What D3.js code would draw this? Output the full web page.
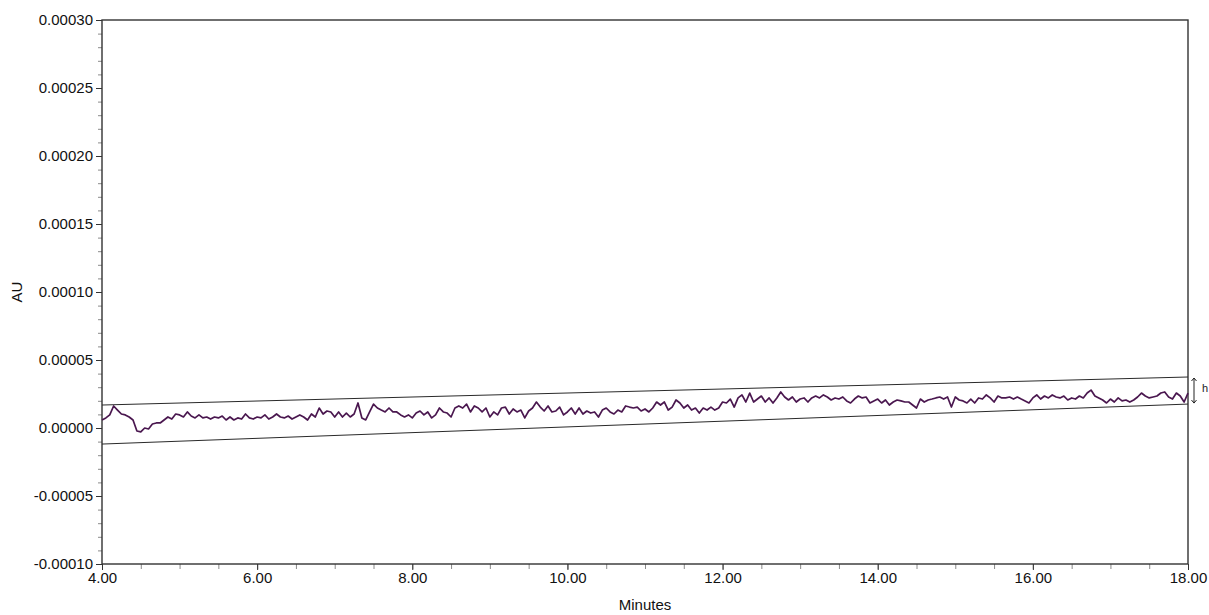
<!DOCTYPE html>
<html>
<head>
<meta charset="utf-8">
<script src="https://cdn.jsdelivr.net/npm/d3@7"></script>
<style>
  body { margin: 0; background: #fff; }
  svg { display: block; font-family: "Liberation Sans", Arial, sans-serif; }
</style>
</head>
<body>
<svg width="1209" height="615"></svg>
<script>
// detector trace, one reading every 0.05 min from 4.00 min, in micro-AU
let sampleStart = 4.0
let sampleStep = 0.05
let signalMicroAU = [
  5.9, 7.4, 9.6, 16.2, 13.2, 10.3, 9.6, 8.1, 5.9, -2.2, -2.9, 0.0, -0.7, 2.9, 3.7, 3.7, 5.9, 8.1, 6.6, 10.3, 9.6, 8.1, 11.8, 8.8, 7.4, 9.6,
  7.4, 8.1, 6.6, 8.1, 7.4, 8.8, 5.9, 8.1, 5.9, 7.4, 6.6, 10.3, 7.4, 6.6, 8.1, 7.4, 9.6, 6.6, 8.1, 10.3, 8.1, 7.4, 8.8, 6.6, 8.1,
  9.6, 8.1, 5.9, 10.3, 8.1, 14.7, 10.3, 12.5, 11.8, 8.1, 11.8, 8.1, 11.0, 8.1, 10.3, 18.4, 7.4, 5.9, 11.8, 17.6, 14.7, 13.2, 11.8, 14.7, 11.8, 11.8,
  9.6, 8.1, 9.6, 7.4, 11.0, 12.5, 9.6, 11.8, 7.4, 9.6, 14.7, 11.8, 11.0, 8.1, 14.7, 16.2, 14.7, 17.6, 11.8, 16.2, 14.7, 11.8, 14.7, 8.1, 11.8, 9.6,
  14.7, 15.4, 10.3, 14.0, 11.8, 13.2, 7.4, 12.5, 14.7, 19.1, 15.4, 12.5, 16.2, 11.8, 12.5, 15.4, 9.6, 11.8, 14.7, 10.3, 14.7, 10.3, 12.5, 11.0, 11.8, 8.1,
  13.2, 14.7, 11.8, 10.3, 13.2, 11.8, 16.2, 15.4, 14.7, 15.4, 12.5, 14.0, 11.8, 14.7, 19.1, 16.9, 19.1, 13.2, 15.4, 20.6, 18.4, 14.7, 16.9, 13.2, 14.7, 11.0,
  14.7, 13.2, 15.4, 13.2, 14.7, 19.1, 18.4, 21.3, 15.4, 22.1, 24.3, 19.1, 25.7, 19.1, 21.3, 23.5, 19.1, 22.1, 18.4, 22.1, 26.5, 22.8, 20.6, 22.8, 19.1,
  21.3, 22.1, 19.1, 22.1, 23.5, 22.1, 24.3, 22.8, 20.6, 22.1, 21.3, 22.8, 19.9, 18.4, 21.3, 23.5, 22.1, 22.8, 18.4, 19.9, 21.3, 18.4, 20.6, 16.9, 19.1, 20.6,
  19.9, 19.1, 19.1, 16.9, 14.7, 21.3, 19.1, 20.6, 21.3, 22.1, 22.8, 21.3, 22.8, 15.4, 22.8, 20.6, 19.9, 18.4, 21.3, 18.4, 22.1, 21.3, 24.3, 22.1, 19.1, 23.5,
  22.1, 22.1, 22.8, 21.3, 22.8, 21.3, 19.9, 18.4, 22.1, 24.3, 21.3, 23.5, 22.1, 24.3, 22.8, 22.1, 23.5, 20.6, 22.1, 21.3, 23.5, 22.1, 25.7, 27.9, 23.5, 22.1,
  20.6, 18.4, 21.3, 19.1, 22.1, 19.9, 20.6, 19.1, 20.6, 22.8, 25.7, 23.5, 22.1, 22.8, 23.5, 25.7, 26.5, 22.8, 21.3, 25.7, 23.5, 19.1, 25.7
]

// noise envelope lines (start / end), micro-AU
let envelopeTimes = [4.0, 18.0]
let envelopeUpper = [16.9, 37.5]
let envelopeLower = [-11.8, 17.6]

let xTicks = [4, 6, 8, 10, 12, 14, 16, 18]
let yTicks = [-0.0001, -0.00005, 0, 0.00005, 0.0001, 0.00015, 0.0002, 0.00025, 0.0003]

let width = 1209;
let height = 615;
let margin = { top: 20, right: 21, bottom: 51, left: 102 };

let svg = d3.select("svg")

let x = d3.scaleLinear()
    .domain([4, 18])
    .range([margin.left, width - margin.right])

let y = d3.scaleLinear()
    .domain([-0.0001, 0.0003])
    .range([height - margin.bottom, margin.top])

let axisColor = "#333333"

// minor ticks first so the major ones sit over them
let xMinorAxis = d3.axisBottom(x)
    .tickValues(d3.range(4, 18.01, 0.5))
    .tickSize(5)
    .tickSizeOuter(0)
    .tickFormat("")

let yMinorAxis = d3.axisLeft(y)
    .tickValues(d3.range(-0.0001, 0.000301, 0.00001))
    .tickSize(4)
    .tickSizeOuter(0)
    .tickFormat("")

svg.append("g")
    .attr("class", "x minor")
    .attr("transform", `translate(0,${height - margin.bottom})`)
    .call(xMinorAxis)

svg.append("g")
    .attr("class", "y minor")
    .attr("transform", `translate(${margin.left},0)`)
    .call(yMinorAxis)

svg.selectAll(".minor .tick line").style("stroke", "#8a8a8a")

let xAxisSettings = d3.axisBottom(x)
    .tickValues(xTicks)
    .tickFormat(d3.format(".2f"))
    .tickSize(6)
    .tickSizeOuter(0)
    .tickPadding(2)

let yAxisSettings = d3.axisLeft(y)
    .tickValues(yTicks)
    .tickFormat(d => d3.format(".5f")(d).replace("−", "-"))
    .tickSize(6)
    .tickSizeOuter(0)
    .tickPadding(3)

svg.append("g")
    .attr("class", "x axis")
    .attr("transform", `translate(0,${height - margin.bottom})`)
    .call(xAxisSettings)

svg.append("g")
    .attr("class", "y axis")
    .attr("transform", `translate(${margin.left},0)`)
    .call(yAxisSettings)

svg.selectAll(".axis .tick line").style("stroke", axisColor)
svg.selectAll(".domain").style("display", "none")
svg.selectAll(".axis .tick text")
    .style("font-size", "15px")
    .style("font-family", "'Liberation Sans', Arial, sans-serif")
    .style("fill", "#111")

// plot frame
svg.append("rect")
    .attr("x", x(4))
    .attr("y", y(0.0003))
    .attr("width", x(18) - x(4))
    .attr("height", y(-0.0001) - y(0.0003))
    .style("fill", "none")
    .style("stroke", axisColor)
    .style("stroke-width", 1.4)

// envelope lines
let envLine = d3.line()
    .x(d => x(d.t))
    .y(d => y(d.v * 1e-6))

let upper = envelopeTimes.map((t, i) => ({ t: t, v: envelopeUpper[i] }))
let lower = envelopeTimes.map((t, i) => ({ t: t, v: envelopeLower[i] }))

svg.selectAll(".envelope")
    .data([upper, lower])
    .enter().append("path")
    .attr("class", "envelope")
    .attr("d", envLine)
    .style("fill", "none")
    .style("stroke", "#2a2a2a")
    .style("stroke-width", 1)

// signal trace
let trace = signalMicroAU.map((v, i) => ({ t: sampleStart + i * sampleStep, v: v }))

let line = d3.line()
    .x(d => x(d.t))
    .y(d => y(d.v * 1e-6))

svg.append("path")
    .datum(trace)
    .attr("d", line)
    .style("fill", "none")
    .style("stroke", "#4a174f")
    .style("stroke-width", 1.7)
    .style("stroke-linejoin", "round")

// "h" double arrow at the right edge
let hx = x(18) + 6
let hTop = y(envelopeUpper[1] * 1e-6)
let hBot = y(envelopeLower[1] * 1e-6)
let hGroup = svg.append("g").style("stroke", "#222").style("fill", "none").style("stroke-width", 1)
hGroup.append("line").attr("x1", hx).attr("x2", hx).attr("y1", hTop + 1).attr("y2", hBot - 1)
hGroup.append("path").attr("d", `M${hx - 2.5},${hTop + 4}L${hx},${hTop + 1}L${hx + 2.5},${hTop + 4}`)
hGroup.append("path").attr("d", `M${hx - 2.5},${hBot - 4}L${hx},${hBot - 1}L${hx + 2.5},${hBot - 4}`)

svg.append("text")
    .attr("x", hx + 8)
    .attr("y", (hTop + hBot) / 2 + 1)
    .text("h")
    .style("font-size", "11px")
    .style("fill", "#222")

// axis titles
svg.append("text")
    .attr("x", (x(4) + x(18)) / 2)
    .attr("y", 610)
    .attr("text-anchor", "middle")
    .text("Minutes")
    .style("font-size", "15px")
    .style("fill", "#111")

svg.append("text")
    .attr("transform", `translate(22,${(y(-0.0001) + y(0.0003)) / 2}) rotate(-90)`)
    .attr("text-anchor", "middle")
    .text("AU")
    .style("font-size", "15px")
    .style("fill", "#111")
</script>
</body>
</html>
